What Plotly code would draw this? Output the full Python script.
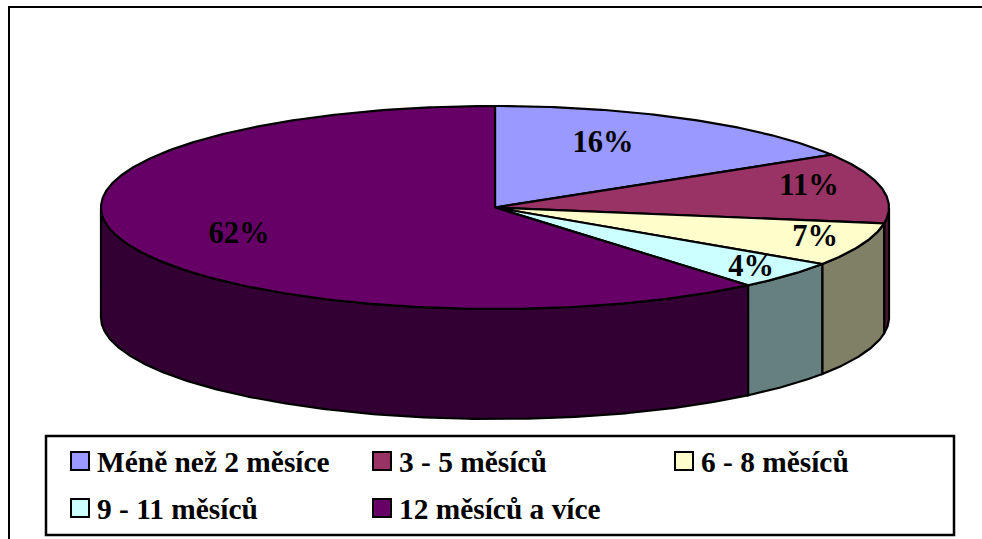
import numpy as np
import plotly.graph_objects as go

categories = ["Méně než 2 měsíce", "3 - 5 měsíců", "6 - 8 měsíců", "9 - 11 měsíců", "12 měsíců a více"]
# Shares read from the drawn slice edges (percent of the circle)
slice_shares = [16.3, 11.2, 6.9, 4.5, 61.1]
slice_labels = ["16%", "11%", "7%", "4%", "62%"]
top_colors = ["#9999FF", "#993366", "#FFFFCC", "#CCFFFF", "#660066"]
side_colors = ["#4C4C80", "#4C1933", "#808066", "#668080", "#330033"]

W, H = 982, 539
CX, CY, RX, RY, DEPTH = 495.0, 207.5, 394.0, 101.5, 110.0
LABEL_XY = [(603, 144), (809, 187), (815, 238), (751, 268), (239, 235)]
LEGEND_SLOTS = [(80, 462), (382, 462), (684, 462), (80, 509), (382, 509)]
SWATCH_Y_SHIFT = 1
LEGEND_TEXT_DX = 15
FONT = "Liberation Serif"
TEXT = "#000000"
LINE_W = 2.2


def ex(t):
    return CX + RX * np.sin(np.radians(t))


def ey(t):
    return CY - RY * np.cos(np.radians(t))


edges = np.concatenate([[0.0], np.cumsum(slice_shares)]) * 360.0 / sum(slice_shares)
fig = go.Figure()

# Side walls: only the arc portion facing the viewer (90 to 270 degrees)
for i, color in enumerate(side_colors):
    a, b = max(edges[i], 90.0), min(edges[i + 1], 270.0)
    if a >= b:
        continue
    t = np.linspace(a, b, max(int((b - a) * 2), 3))
    xs = np.concatenate([ex(t), ex(t[::-1])])
    ys = np.concatenate([ey(t), ey(t[::-1]) + DEPTH])
    fig.add_trace(go.Scatter(x=np.append(xs, xs[0]), y=np.append(ys, ys[0]), mode="lines", fill="toself",
                             fillcolor=color, line=dict(color="black", width=LINE_W), hoverinfo="skip", showlegend=False))

# Top faces
for i, color in enumerate(top_colors):
    a, b = edges[i], edges[i + 1]
    t = np.linspace(a, b, max(int((b - a) * 2), 3))
    xs = np.concatenate([[CX], ex(t), [CX]])
    ys = np.concatenate([[CY], ey(t), [CY]])
    fig.add_trace(go.Scatter(x=xs, y=ys, mode="lines", fill="toself", fillcolor=color, name=categories[i],
                             line=dict(color="black", width=LINE_W), hoverinfo="name", showlegend=False))

# Percent labels
fig.add_trace(go.Scatter(x=[p[0] for p in LABEL_XY], y=[p[1] for p in LABEL_XY], mode="text", text=slice_labels,
                         textposition="middle center", textfont=dict(family=FONT, size=30.5, color=TEXT, weight="bold"),
                         hoverinfo="skip", showlegend=False))

# Legend swatches
for (x, y), color, name in zip(LEGEND_SLOTS, top_colors, categories):
    fig.add_trace(go.Scatter(x=[x], y=[y - SWATCH_Y_SHIFT], mode="markers", name=name, showlegend=False, hoverinfo="name",
                             marker=dict(symbol="square", size=18, color=color, line=dict(color="black", width=2))))

annotations = [dict(x=x + LEGEND_TEXT_DX, y=y, text=f"<b>{name}</b>", xref="x", yref="y", showarrow=False,
                    xanchor="left", yanchor="middle", font=dict(family=FONT, size=29.4, color=TEXT))
               for (x, y), name in zip(LEGEND_SLOTS, categories)]

shapes = [
    dict(type="rect", x0=9, y0=7, x1=W + 30, y1=H + 30, line=dict(color="black", width=2), layer="below"),
    dict(type="rect", x0=46, y0=436, x1=954, y1=535, line=dict(color="black", width=2.5), fillcolor="white", layer="below"),
]

fig.update_layout(
    width=W, height=H, margin=dict(l=0, r=0, t=0, b=0), autosize=False,
    paper_bgcolor="white", plot_bgcolor="white", showlegend=False,
    xaxis=dict(range=[0, W], visible=False, fixedrange=True),
    yaxis=dict(range=[H, 0], visible=False, fixedrange=True),
    shapes=shapes, annotations=annotations,
)
fig.write_html("out.html", config=dict(displayModeBar=False),
               post_script="document.body.style.margin='0';document.body.style.overflow='hidden';")
